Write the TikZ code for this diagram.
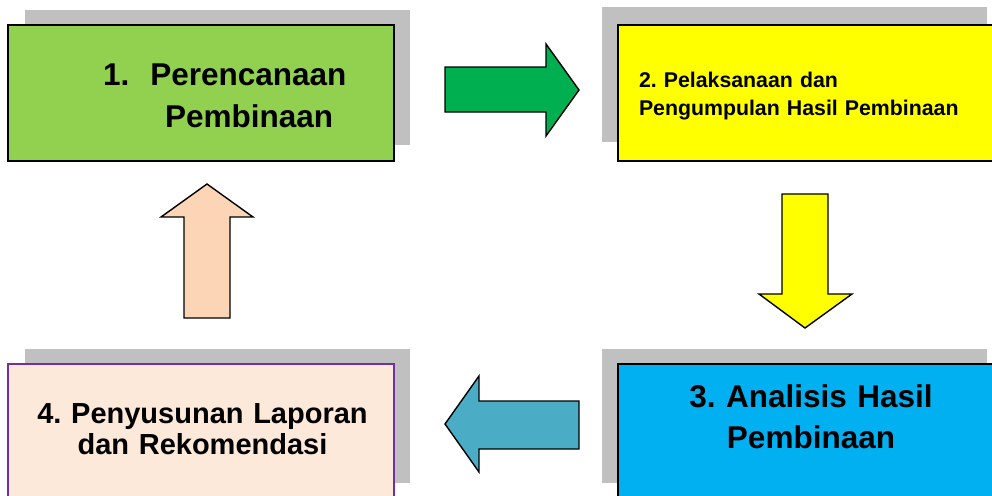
\documentclass[tikz,border=0pt]{standalone}
\usepackage{fontspec}
\setmainfont{Liberation Sans}
\frenchspacing
\definecolor{shadowgray}{HTML}{C0C0C0}
\definecolor{greenbox}{HTML}{92D050}
\definecolor{greenarrow}{HTML}{00B050}
\definecolor{yellowbox}{HTML}{FFFF00}
\definecolor{cyanbox}{HTML}{00B0F0}
\definecolor{tealarrow}{HTML}{4BACC6}
\definecolor{peacharrow}{HTML}{FBD5B5}
\definecolor{peachbox}{HTML}{FDE9D9}
\definecolor{purpleline}{HTML}{7030A0}
\begin{document}
\begin{tikzpicture}[x=1pt,y=-1pt,
  shadowbox/.style={fill=shadowgray},
  stagebox/.style={draw=black, line width=1.6pt, inner sep=0pt, outer sep=0pt, anchor=north west},
  blockarrow/.style={draw=black, line width=1.4pt, line join=miter},
  stagetext/.style={inner sep=0pt, outer sep=0pt, anchor=base}]
\useasboundingbox (0,0) rectangle (992,495);
\clip (0,0) rectangle (992,495);
% shadows
\fill[shadowbox] (25,10) rectangle (410,145);
\fill[shadowbox] (602,7) rectangle (987,142);
\fill[shadowbox] (602,349) rectangle (987,483);
\fill[shadowbox] (25,349) rectangle (410,483);
% boxes
\node[stagebox, fill=greenbox, minimum width=386pt, minimum height=136pt] (b1) at (8,25) {};
\node[stagebox, fill=yellowbox, minimum width=390pt, minimum height=136pt] (b2) at (618,25) {};
\node[stagebox, fill=cyanbox, minimum width=390pt, minimum height=140pt] (b3) at (618,364) {};
\node[stagebox, draw=purpleline, fill=peachbox, minimum width=386pt, minimum height=140pt] (b4) at (8,364) {};
% texts
\node[stagetext, anchor=base west, text width=300pt, align=left,
  font=\bfseries\fontsize{31.5}{42}\selectfont] (t1) at (103,85)
  {1.\hspace{21pt}Perencanaan\\\hspace*{62pt}Pembinaan};
\node[stagetext, anchor=base west, text width=340pt, align=left,
  font=\bfseries\fontsize{21.3}{28}\selectfont] (t2) at (639,87)
  {2. Pelaksanaan dan\\Pengumpulan Hasil Pembinaan};
\node[stagetext, text width=320pt, align=center,
  font=\bfseries\fontsize{31.5}{41}\selectfont] (t3) at (811,407)
  {3. Analisis Hasil\\Pembinaan};
\node[stagetext, text width=360pt, align=center,
  font=\bfseries\fontsize{29}{31}\selectfont] (t4) at (202.5,423)
  {4. Penyusunan Laporan\\dan Rekomendasi};
% block arrows
\draw[blockarrow, fill=greenarrow] (445,67) -- (546,67) -- (546,44) -- (579,90) -- (546,136) -- (546,112) -- (445,112) -- cycle;
\draw[blockarrow, fill=yellowbox] (782,194) -- (828,194) -- (828,294) -- (852,294) -- (805,328) -- (759,294) -- (782,294) -- cycle;
\draw[blockarrow, fill=tealarrow] (579,401) -- (479,401) -- (479,376) -- (445,424) -- (479,472) -- (479,449) -- (579,449) -- cycle;
\draw[blockarrow, fill=peacharrow] (184,318) -- (184,217) -- (161,217) -- (207,184) -- (253,217) -- (230,217) -- (230,318) -- cycle;
\end{tikzpicture}
\end{document}
